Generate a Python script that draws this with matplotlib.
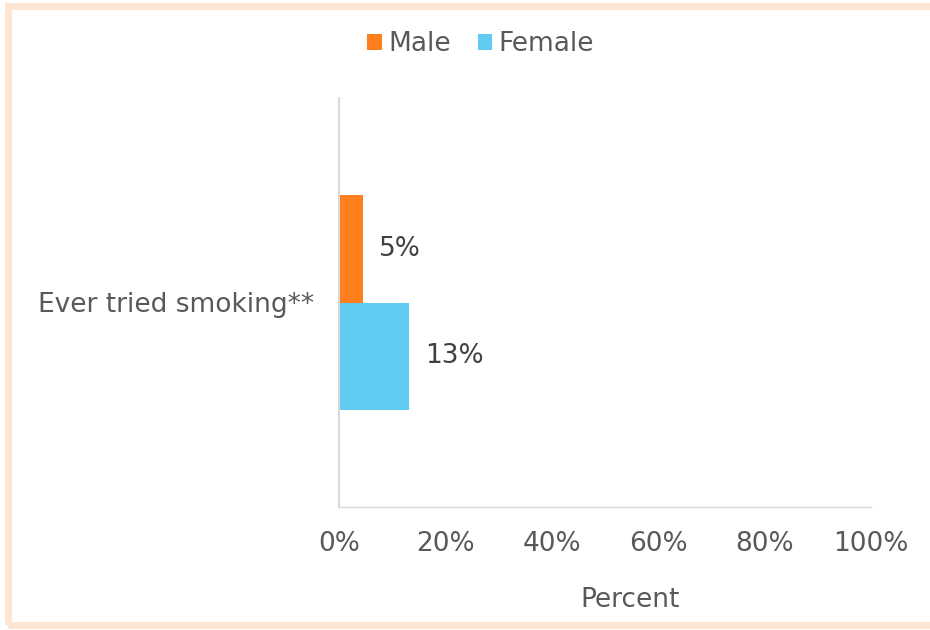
import matplotlib.pyplot as plt
from matplotlib.patches import Rectangle

plt.rcParams['font.family'] = ['DejaVu Sans']

categories = ['Ever tried smoking**']
groups = ['Male', 'Female']
values = [4.6, 13.2]
labels = ['5%', '13%']
colors = ['#FF7F1E', '#5DCBF2']
ticks = [0, 20, 40, 60, 80, 100]
tick_labels = ['0%', '20%', '40%', '60%', '80%', '100%']

grey = '#595959'
fs = 19

fig = plt.figure(figsize=(9.3, 6.3), dpi=100)
# peach outer border (chart area frame)
fig.patches.append(Rectangle((8 / 930, 5 / 630), 940 / 930, 619 / 630,
                             transform=fig.transFigure, fill=False,
                             edgecolor='#FDE5D3', linewidth=5))

ax = fig.add_axes([339 / 930, 1 - 507 / 630, 532 / 930, 409 / 630])

h = 0.526
offsets = [h / 2, -h / 2]
for g, v, lab, c, off in zip(groups, values, labels, colors, offsets):
    ax.barh(off, v, height=h, color=c, label=g)
    ax.text(v + 3, off, lab, va='center', ha='left', fontsize=fs, color='#404040')

ax.set_ylim(-1, 1)
ax.set_xlim(0, 100)
ax.set_yticks([0])
ax.set_yticklabels(categories, fontsize=fs, color=grey)
ax.set_xticks(ticks)
ax.set_xticklabels(tick_labels, fontsize=fs, color=grey)
ax.tick_params(length=0, axis='y', pad=18)
ax.tick_params(length=0, axis='x', pad=17)
ax.set_xlabel('Percent', fontsize=fs, color=grey)
ax.xaxis.set_label_coords(0.547, -0.195)

for s in ['top', 'right']:
    ax.spines[s].set_visible(False)
ax.spines['left'].set_color('#D9D9D9')
ax.spines['bottom'].set_color('#D9D9D9')
ax.spines['left'].set_linewidth(1.5)
ax.spines['bottom'].set_linewidth(1.0)

fig.legend(loc='center', bbox_to_anchor=(0.517, 1 - 44 / 630), ncol=2, frameon=False,
           fontsize=fs, labelcolor=grey, handlelength=0.55, handleheight=0.55,
           handletextpad=0.25, columnspacing=1.0)

fig.savefig('out.png', dpi=100)
